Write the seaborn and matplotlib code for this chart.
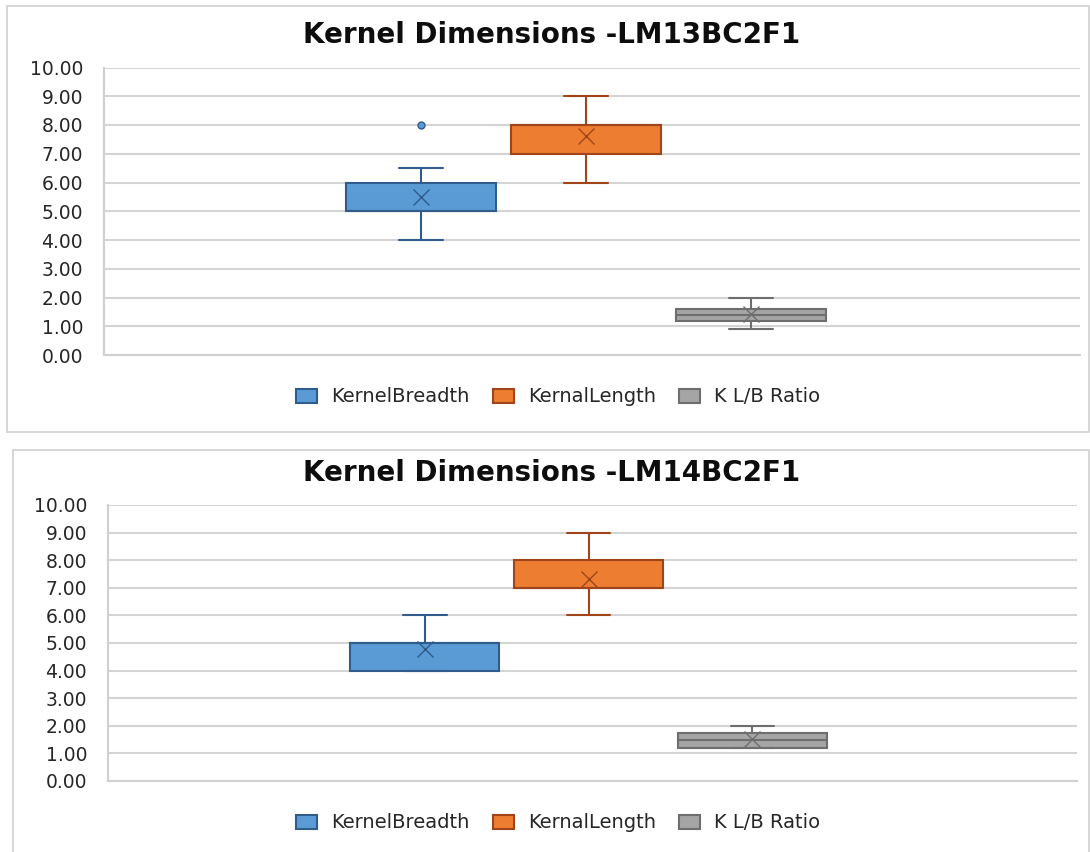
import pandas as pd
import seaborn as sns
import matplotlib.pyplot as plt
from matplotlib.patches import Patch, Rectangle

# series names (as in the Excel legend)
series = ["KernelBreadth", "KernalLength", "K L/B Ratio"]
fills = ["#5B9BD5", "#ED7D31", "#A5A5A5"]
edges = ["#2F5C8A", "#A0451A", "#6E6E6E"]

# LM13BC2F1 readings (hand-read so the box stats match the chart)
lm13_breadth = [4, 5, 5, 5, 5, 5, 5, 5, 6, 6, 6, 6.5, 8]
lm13_length = [6, 7, 7, 8, 8, 8, 8, 9]
lm13_ratio = [0.9, 1.1, 1.2, 1.3, 1.4, 1.5, 1.6, 1.7, 2.0]

# LM14BC2F1 readings
lm14_breadth = [4, 4, 4, 5, 5, 5, 5, 5, 6]
lm14_length = [6, 7, 7, 7, 7, 7, 7, 7, 8, 8, 8, 9]
lm14_ratio = [1.2, 1.2, 1.2, 1.4, 1.5, 1.6, 1.75, 1.75, 2.0]

titles = ["Kernel Dimensions -LM13BC2F1", "Kernel Dimensions -LM14BC2F1"]
yticks = list(range(0, 11))

W, H = 1090, 852


def to_long(breadth, length, ratio):
    rows = []
    for name, vals in zip(series, [breadth, length, ratio]):
        for v in vals:
            rows.append({"grp": "all", "series": name, "value": v})
    return pd.DataFrame(rows)


def px_box(x0, y0, x1, y1):
    # pixel box (top-left origin) -> figure fraction rect
    return [x0 / W, 1 - y1 / H, (x1 - x0) / W, (y1 - y0) / H]


def draw_panel(ax, df, title, title_y, legend_y, xlim):
    sns.boxplot(data=df, x="grp", y="value", hue="series", hue_order=series,
                palette=fills, saturation=1, width=0.507, gap=0.09, whis=1.5,
                showmeans=True, legend=False, linewidth=1.5, ax=ax,
                meanprops=dict(marker="x", markersize=12, markeredgewidth=1),
                flierprops=dict(marker="o", markersize=5),
                capwidths=0.045)
    # colour the box outlines / whiskers per series
    for patch, ec in zip(ax.patches, edges):
        patch.set_edgecolor(ec)
    centers = [-0.169, 0.0, 0.169]
    for ln in ax.lines:
        xd = ln.get_xdata()
        if len(xd) == 0:
            continue
        xm = sum(xd) / len(xd)
        i = min(range(3), key=lambda k: abs(centers[k] - xm))
        ln.set_color(edges[i])
        ln.set_markeredgecolor(edges[i])
        if ln.get_marker() == "o":
            ln.set_markerfacecolor(fills[i])

    ax.set_xlim(*xlim)
    ax.set_ylim(0, 10)
    ax.set_yticks(yticks)
    ax.set_yticklabels([f"{t:.2f}" for t in yticks])
    ax.set_xticks([])
    ax.set_xlabel("")
    ax.set_ylabel("")
    ax.grid(axis="y", color="#D4D4D4", linewidth=1.5)
    ax.set_axisbelow(True)
    ax.tick_params(axis="y", length=0, pad=15, labelsize=13.5, labelcolor="#262626")
    for s in ["top", "right"]:
        ax.spines[s].set_visible(False)
    for s in ["left", "bottom"]:
        ax.spines[s].set_color("#D0D0D0")
        ax.spines[s].set_linewidth(1.5)

    fig.text(552 / W, 1 - title_y / H, title, ha="center", va="center",
             fontsize=20, fontweight="bold", color="#0D0D0D")
    handles = [Patch(facecolor=f, edgecolor=e, linewidth=1.5) for f, e in zip(fills, edges)]
    fig.legend(handles, series, loc="center", bbox_to_anchor=(558 / W, 1 - legend_y / H),
               ncol=3, frameon=False, fontsize=14, handlelength=1.1, handleheight=0.75,
               handletextpad=0.7, columnspacing=1.2, labelcolor="#262626")


sns.set_theme(style="white")
plt.rcParams["font.family"] = ["DejaVu Sans"]

fig = plt.figure(figsize=(W / 100, H / 100), dpi=100)
fig.patch.set_facecolor("white")

# chart frames like the Excel chart areas
for x0, y0, x1, y1 in [(7, 6, 1089, 432), (12.5, 450, 1089, 860)]:
    fig.add_artist(Rectangle((x0 / W, 1 - y1 / H), (x1 - x0) / W, (y1 - y0) / H,
                             transform=fig.transFigure, fill=False,
                             edgecolor="#D0D0D0", linewidth=1.2))

ax1 = fig.add_axes(px_box(104, 67.5, 1080, 355))
draw_panel(ax1, to_long(lm13_breadth, lm13_length, lm13_ratio), titles[0],
           35, 397, (-0.4939, 0.5061))

ax2 = fig.add_axes(px_box(108, 505, 1077, 781))
draw_panel(ax2, to_long(lm14_breadth, lm14_length, lm14_ratio), titles[1],
           473, 823, (-0.496, 0.504))

fig.savefig("out.png", dpi=100)
